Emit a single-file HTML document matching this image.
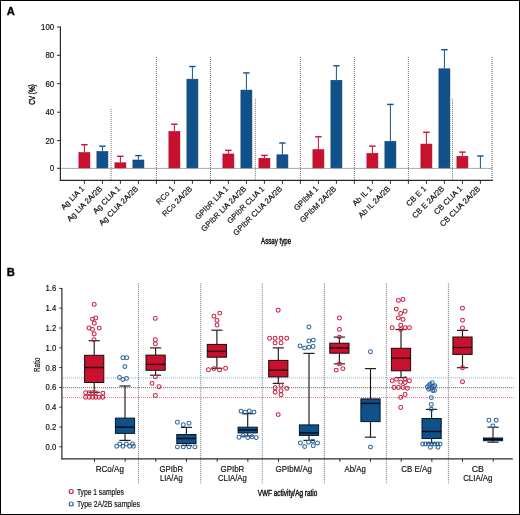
<!DOCTYPE html>
<html><head><meta charset="utf-8"><style>
html,body{margin:0;padding:0;background:#fff;}
#wrap{position:relative;width:518px;height:513px;border:1px solid #000;overflow:hidden;background:#fff;}
svg{position:absolute;left:-1px;top:-1px;will-change:transform;}
text{font-family:"Liberation Sans", sans-serif;stroke:#111;stroke-width:0.18px;}
</style></head><body><div id="wrap">
<svg width="520" height="515" viewBox="0 0 520 515">
<text x="6.70" y="14.60" font-size="11.2" text-anchor="start" font-weight="bold" fill="#000" style="stroke:#000;stroke-width:0.35px">A</text>
<line x1="111.20" y1="109.00" x2="111.20" y2="180.00" stroke="#999" stroke-width="1.3" stroke-dasharray="1 1"/>
<line x1="156.40" y1="57.00" x2="156.40" y2="180.00" stroke="#777" stroke-width="1" stroke-dasharray="1 1"/>
<line x1="210.50" y1="57.00" x2="210.50" y2="180.00" stroke="#777" stroke-width="1" stroke-dasharray="1 1"/>
<line x1="255.40" y1="98.80" x2="255.40" y2="180.00" stroke="#777" stroke-width="1" stroke-dasharray="1 1"/>
<line x1="300.40" y1="57.00" x2="300.40" y2="180.00" stroke="#777" stroke-width="1" stroke-dasharray="1 1"/>
<line x1="354.40" y1="57.00" x2="354.40" y2="180.00" stroke="#777" stroke-width="1" stroke-dasharray="1 1"/>
<line x1="408.40" y1="57.00" x2="408.40" y2="180.00" stroke="#777" stroke-width="1" stroke-dasharray="1 1"/>
<line x1="452.50" y1="98.80" x2="452.50" y2="180.00" stroke="#777" stroke-width="1" stroke-dasharray="1 1"/>
<line x1="492.10" y1="57.00" x2="492.10" y2="179.50" stroke="#999" stroke-width="1.8" stroke-dasharray="1 1"/>
<line x1="84.40" y1="152.30" x2="84.40" y2="144.70" stroke="#c8112f" stroke-width="1"/>
<line x1="81.20" y1="144.70" x2="87.60" y2="144.70" stroke="#c8112f" stroke-width="1.4"/>
<rect x="78.90" y="152.60" width="11.00" height="15.30" fill="#c8112f" stroke="#b00020" stroke-width="0.6"/>
<line x1="102.40" y1="151.20" x2="102.40" y2="146.20" stroke="#11518a" stroke-width="1"/>
<line x1="99.20" y1="146.20" x2="105.60" y2="146.20" stroke="#11518a" stroke-width="1.4"/>
<rect x="96.90" y="151.50" width="11.00" height="16.40" fill="#11518a" stroke="#0a4070" stroke-width="0.6"/>
<line x1="120.40" y1="162.50" x2="120.40" y2="156.30" stroke="#c8112f" stroke-width="1"/>
<line x1="117.20" y1="156.30" x2="123.60" y2="156.30" stroke="#c8112f" stroke-width="1.4"/>
<rect x="114.90" y="162.80" width="11.00" height="5.10" fill="#c8112f" stroke="#b00020" stroke-width="0.6"/>
<line x1="138.40" y1="159.70" x2="138.40" y2="155.60" stroke="#11518a" stroke-width="1"/>
<line x1="135.20" y1="155.60" x2="141.60" y2="155.60" stroke="#11518a" stroke-width="1.4"/>
<rect x="132.90" y="160.00" width="11.00" height="7.90" fill="#11518a" stroke="#0a4070" stroke-width="0.6"/>
<line x1="174.40" y1="131.20" x2="174.40" y2="124.20" stroke="#c8112f" stroke-width="1"/>
<line x1="171.20" y1="124.20" x2="177.60" y2="124.20" stroke="#c8112f" stroke-width="1.4"/>
<rect x="168.90" y="131.50" width="11.00" height="36.40" fill="#c8112f" stroke="#b00020" stroke-width="0.6"/>
<line x1="192.40" y1="78.90" x2="192.40" y2="66.50" stroke="#11518a" stroke-width="1"/>
<line x1="189.20" y1="66.50" x2="195.60" y2="66.50" stroke="#11518a" stroke-width="1.4"/>
<rect x="186.90" y="79.20" width="11.00" height="88.70" fill="#11518a" stroke="#0a4070" stroke-width="0.6"/>
<line x1="228.40" y1="153.70" x2="228.40" y2="150.40" stroke="#c8112f" stroke-width="1"/>
<line x1="225.20" y1="150.40" x2="231.60" y2="150.40" stroke="#c8112f" stroke-width="1.4"/>
<rect x="222.90" y="154.00" width="11.00" height="13.90" fill="#c8112f" stroke="#b00020" stroke-width="0.6"/>
<line x1="246.40" y1="89.80" x2="246.40" y2="72.90" stroke="#11518a" stroke-width="1"/>
<line x1="243.20" y1="72.90" x2="249.60" y2="72.90" stroke="#11518a" stroke-width="1.4"/>
<rect x="240.90" y="90.10" width="11.00" height="77.80" fill="#11518a" stroke="#0a4070" stroke-width="0.6"/>
<line x1="264.40" y1="158.00" x2="264.40" y2="155.40" stroke="#c8112f" stroke-width="1"/>
<line x1="261.20" y1="155.40" x2="267.60" y2="155.40" stroke="#c8112f" stroke-width="1.4"/>
<rect x="258.90" y="158.30" width="11.00" height="9.60" fill="#c8112f" stroke="#b00020" stroke-width="0.6"/>
<line x1="282.40" y1="154.50" x2="282.40" y2="143.00" stroke="#11518a" stroke-width="1"/>
<line x1="279.20" y1="143.00" x2="285.60" y2="143.00" stroke="#11518a" stroke-width="1.4"/>
<rect x="276.90" y="154.80" width="11.00" height="13.10" fill="#11518a" stroke="#0a4070" stroke-width="0.6"/>
<line x1="318.40" y1="149.40" x2="318.40" y2="136.80" stroke="#c8112f" stroke-width="1"/>
<line x1="315.20" y1="136.80" x2="321.60" y2="136.80" stroke="#c8112f" stroke-width="1.4"/>
<rect x="312.90" y="149.70" width="11.00" height="18.20" fill="#c8112f" stroke="#b00020" stroke-width="0.6"/>
<line x1="336.40" y1="80.00" x2="336.40" y2="65.80" stroke="#11518a" stroke-width="1"/>
<line x1="333.20" y1="65.80" x2="339.60" y2="65.80" stroke="#11518a" stroke-width="1.4"/>
<rect x="330.90" y="80.30" width="11.00" height="87.60" fill="#11518a" stroke="#0a4070" stroke-width="0.6"/>
<line x1="372.40" y1="153.10" x2="372.40" y2="146.10" stroke="#c8112f" stroke-width="1"/>
<line x1="369.20" y1="146.10" x2="375.60" y2="146.10" stroke="#c8112f" stroke-width="1.4"/>
<rect x="366.90" y="153.40" width="11.00" height="14.50" fill="#c8112f" stroke="#b00020" stroke-width="0.6"/>
<line x1="390.40" y1="141.10" x2="390.40" y2="104.40" stroke="#11518a" stroke-width="1"/>
<line x1="387.20" y1="104.40" x2="393.60" y2="104.40" stroke="#11518a" stroke-width="1.4"/>
<rect x="384.90" y="141.40" width="11.00" height="26.50" fill="#11518a" stroke="#0a4070" stroke-width="0.6"/>
<line x1="426.40" y1="143.80" x2="426.40" y2="132.30" stroke="#c8112f" stroke-width="1"/>
<line x1="423.20" y1="132.30" x2="429.60" y2="132.30" stroke="#c8112f" stroke-width="1.4"/>
<rect x="420.90" y="144.10" width="11.00" height="23.80" fill="#c8112f" stroke="#b00020" stroke-width="0.6"/>
<line x1="444.40" y1="68.50" x2="444.40" y2="49.70" stroke="#11518a" stroke-width="1"/>
<line x1="441.20" y1="49.70" x2="447.60" y2="49.70" stroke="#11518a" stroke-width="1.4"/>
<rect x="438.90" y="68.80" width="11.00" height="99.10" fill="#11518a" stroke="#0a4070" stroke-width="0.6"/>
<line x1="462.40" y1="156.00" x2="462.40" y2="152.10" stroke="#c8112f" stroke-width="1"/>
<line x1="459.20" y1="152.10" x2="465.60" y2="152.10" stroke="#c8112f" stroke-width="1.4"/>
<rect x="456.90" y="156.30" width="11.00" height="11.60" fill="#c8112f" stroke="#b00020" stroke-width="0.6"/>
<line x1="480.40" y1="168.30" x2="480.40" y2="156.00" stroke="#11518a" stroke-width="1"/>
<line x1="477.20" y1="156.00" x2="483.60" y2="156.00" stroke="#11518a" stroke-width="1.4"/>
<line x1="60.40" y1="168.40" x2="492.50" y2="168.40" stroke="#555" stroke-width="1" stroke-dasharray="1 1"/>
<line x1="60.40" y1="26.50" x2="60.40" y2="180.80" stroke="#2a2a2a" stroke-width="1.2"/>
<line x1="59.80" y1="180.30" x2="492.80" y2="180.30" stroke="#2a2a2a" stroke-width="1.2"/>
<line x1="57.00" y1="168.30" x2="60.40" y2="168.30" stroke="#2a2a2a" stroke-width="1"/>
<text transform="translate(54.20 171.30) scale(0.95 1)" x="0" y="0" font-size="8.3" text-anchor="end" font-weight="normal" fill="#111">0</text>
<line x1="57.00" y1="140.60" x2="60.40" y2="140.60" stroke="#2a2a2a" stroke-width="1"/>
<text transform="translate(54.20 143.60) scale(0.95 1)" x="0" y="0" font-size="8.3" text-anchor="end" font-weight="normal" fill="#111">20</text>
<line x1="57.00" y1="112.20" x2="60.40" y2="112.20" stroke="#2a2a2a" stroke-width="1"/>
<text transform="translate(54.20 115.20) scale(0.95 1)" x="0" y="0" font-size="8.3" text-anchor="end" font-weight="normal" fill="#111">40</text>
<line x1="57.00" y1="83.70" x2="60.40" y2="83.70" stroke="#2a2a2a" stroke-width="1"/>
<text transform="translate(54.20 86.70) scale(0.95 1)" x="0" y="0" font-size="8.3" text-anchor="end" font-weight="normal" fill="#111">60</text>
<line x1="57.00" y1="55.30" x2="60.40" y2="55.30" stroke="#2a2a2a" stroke-width="1"/>
<text transform="translate(54.20 58.30) scale(0.95 1)" x="0" y="0" font-size="8.3" text-anchor="end" font-weight="normal" fill="#111">80</text>
<line x1="57.00" y1="27.00" x2="60.40" y2="27.00" stroke="#2a2a2a" stroke-width="1"/>
<text transform="translate(54.20 30.00) scale(0.95 1)" x="0" y="0" font-size="8.3" text-anchor="end" font-weight="normal" fill="#111">100</text>
<line x1="84.40" y1="180.30" x2="84.40" y2="183.80" stroke="#2a2a2a" stroke-width="1"/>
<line x1="102.40" y1="180.30" x2="102.40" y2="183.80" stroke="#2a2a2a" stroke-width="1"/>
<line x1="120.40" y1="180.30" x2="120.40" y2="183.80" stroke="#2a2a2a" stroke-width="1"/>
<line x1="138.40" y1="180.30" x2="138.40" y2="183.80" stroke="#2a2a2a" stroke-width="1"/>
<line x1="156.40" y1="180.30" x2="156.40" y2="183.80" stroke="#2a2a2a" stroke-width="1"/>
<line x1="174.40" y1="180.30" x2="174.40" y2="183.80" stroke="#2a2a2a" stroke-width="1"/>
<line x1="192.40" y1="180.30" x2="192.40" y2="183.80" stroke="#2a2a2a" stroke-width="1"/>
<line x1="210.40" y1="180.30" x2="210.40" y2="183.80" stroke="#2a2a2a" stroke-width="1"/>
<line x1="228.40" y1="180.30" x2="228.40" y2="183.80" stroke="#2a2a2a" stroke-width="1"/>
<line x1="246.40" y1="180.30" x2="246.40" y2="183.80" stroke="#2a2a2a" stroke-width="1"/>
<line x1="264.40" y1="180.30" x2="264.40" y2="183.80" stroke="#2a2a2a" stroke-width="1"/>
<line x1="282.40" y1="180.30" x2="282.40" y2="183.80" stroke="#2a2a2a" stroke-width="1"/>
<line x1="300.40" y1="180.30" x2="300.40" y2="183.80" stroke="#2a2a2a" stroke-width="1"/>
<line x1="318.40" y1="180.30" x2="318.40" y2="183.80" stroke="#2a2a2a" stroke-width="1"/>
<line x1="336.40" y1="180.30" x2="336.40" y2="183.80" stroke="#2a2a2a" stroke-width="1"/>
<line x1="354.40" y1="180.30" x2="354.40" y2="183.80" stroke="#2a2a2a" stroke-width="1"/>
<line x1="372.40" y1="180.30" x2="372.40" y2="183.80" stroke="#2a2a2a" stroke-width="1"/>
<line x1="390.40" y1="180.30" x2="390.40" y2="183.80" stroke="#2a2a2a" stroke-width="1"/>
<line x1="408.40" y1="180.30" x2="408.40" y2="183.80" stroke="#2a2a2a" stroke-width="1"/>
<line x1="426.40" y1="180.30" x2="426.40" y2="183.80" stroke="#2a2a2a" stroke-width="1"/>
<line x1="444.40" y1="180.30" x2="444.40" y2="183.80" stroke="#2a2a2a" stroke-width="1"/>
<line x1="462.40" y1="180.30" x2="462.40" y2="183.80" stroke="#2a2a2a" stroke-width="1"/>
<line x1="480.40" y1="180.30" x2="480.40" y2="183.80" stroke="#2a2a2a" stroke-width="1"/>
<text x="84.80" y="189.30" font-size="7.8" text-anchor="end" font-weight="normal" fill="#111" transform="rotate(-45 84.80 189.30)">Ag LIA 1</text>
<text x="102.80" y="189.30" font-size="7.8" text-anchor="end" font-weight="normal" fill="#111" transform="rotate(-45 102.80 189.30)">Ag LIA 2A/2B</text>
<text x="120.80" y="189.30" font-size="7.8" text-anchor="end" font-weight="normal" fill="#111" transform="rotate(-45 120.80 189.30)">Ag CLIA 1</text>
<text x="138.80" y="189.30" font-size="7.8" text-anchor="end" font-weight="normal" fill="#111" transform="rotate(-45 138.80 189.30)">Ag CLIA 2A/2B</text>
<text x="174.80" y="189.30" font-size="7.8" text-anchor="end" font-weight="normal" fill="#111" transform="rotate(-45 174.80 189.30)">RCo 1</text>
<text x="192.80" y="189.30" font-size="7.8" text-anchor="end" font-weight="normal" fill="#111" transform="rotate(-45 192.80 189.30)">RCo 2A/2B</text>
<text x="228.80" y="189.30" font-size="7.8" text-anchor="end" font-weight="normal" fill="#111" transform="rotate(-45 228.80 189.30)">GPIbR LIA 1</text>
<text x="246.80" y="189.30" font-size="7.8" text-anchor="end" font-weight="normal" fill="#111" transform="rotate(-45 246.80 189.30)">GPIbR LIA 2A/2B</text>
<text x="264.80" y="189.30" font-size="7.8" text-anchor="end" font-weight="normal" fill="#111" transform="rotate(-45 264.80 189.30)">GPIbR CLIA 1</text>
<text x="282.80" y="189.30" font-size="7.8" text-anchor="end" font-weight="normal" fill="#111" transform="rotate(-45 282.80 189.30)">GPIbR CLIA 2A/2B</text>
<text x="318.80" y="189.30" font-size="7.8" text-anchor="end" font-weight="normal" fill="#111" transform="rotate(-45 318.80 189.30)">GPIbM 1</text>
<text x="336.80" y="189.30" font-size="7.8" text-anchor="end" font-weight="normal" fill="#111" transform="rotate(-45 336.80 189.30)">GPIbM 2A/2B</text>
<text x="372.80" y="189.30" font-size="7.8" text-anchor="end" font-weight="normal" fill="#111" transform="rotate(-45 372.80 189.30)">Ab IL 1</text>
<text x="390.80" y="189.30" font-size="7.8" text-anchor="end" font-weight="normal" fill="#111" transform="rotate(-45 390.80 189.30)">Ab IL 2A/2B</text>
<text x="426.80" y="189.30" font-size="7.8" text-anchor="end" font-weight="normal" fill="#111" transform="rotate(-45 426.80 189.30)">CB E 1</text>
<text x="444.80" y="189.30" font-size="7.8" text-anchor="end" font-weight="normal" fill="#111" transform="rotate(-45 444.80 189.30)">CB E 2A/2B</text>
<text x="462.80" y="189.30" font-size="7.8" text-anchor="end" font-weight="normal" fill="#111" transform="rotate(-45 462.80 189.30)">CB CLIA 1</text>
<text x="480.80" y="189.30" font-size="7.8" text-anchor="end" font-weight="normal" fill="#111" transform="rotate(-45 480.80 189.30)">CB CLIA 2A/2B</text>
<text x="0.00" y="0.00" font-size="9.4" text-anchor="middle" font-weight="normal" fill="#111" transform="translate(35.2 94.5) rotate(-90)" textLength="20.5" lengthAdjust="spacingAndGlyphs" style="stroke:#111;stroke-width:0.45px">CV (%)</text>
<text x="276.10" y="243.50" font-size="9.5" text-anchor="middle" font-weight="normal" fill="#111" textLength="30" lengthAdjust="spacingAndGlyphs" style="stroke:#111;stroke-width:0.45px">Assay type</text>
<text x="6.70" y="276.30" font-size="11.2" text-anchor="start" font-weight="bold" fill="#000" style="stroke:#000;stroke-width:0.35px">B</text>
<line x1="138.50" y1="283.20" x2="138.50" y2="483.70" stroke="#777" stroke-width="1" stroke-dasharray="1 1"/>
<line x1="200.70" y1="283.20" x2="200.70" y2="483.70" stroke="#777" stroke-width="1" stroke-dasharray="1 1"/>
<line x1="262.30" y1="283.20" x2="262.30" y2="483.70" stroke="#777" stroke-width="1" stroke-dasharray="1 1"/>
<line x1="324.40" y1="283.20" x2="324.40" y2="483.70" stroke="#777" stroke-width="1" stroke-dasharray="1 1"/>
<line x1="386.40" y1="283.20" x2="386.40" y2="483.70" stroke="#777" stroke-width="1" stroke-dasharray="1 1"/>
<line x1="448.40" y1="283.20" x2="448.40" y2="483.70" stroke="#777" stroke-width="1" stroke-dasharray="1 1"/>
<line x1="62.90" y1="377.90" x2="513.80" y2="377.90" stroke="#86aed2" stroke-width="1" stroke-dasharray="1 1"/>
<line x1="62.90" y1="387.70" x2="513.80" y2="387.70" stroke="#5e5e5e" stroke-width="1" stroke-dasharray="1 1"/>
<line x1="62.90" y1="397.50" x2="513.80" y2="397.50" stroke="#e2728a" stroke-width="1" stroke-dasharray="1 1"/>
<line x1="94.20" y1="340.70" x2="94.20" y2="355.30" stroke="#1a1a1a" stroke-width="1.15"/>
<line x1="94.20" y1="382.50" x2="94.20" y2="392.30" stroke="#1a1a1a" stroke-width="1.15"/>
<line x1="88.60" y1="340.70" x2="99.80" y2="340.70" stroke="#222" stroke-width="1.2"/>
<line x1="88.60" y1="392.30" x2="99.80" y2="392.30" stroke="#222" stroke-width="1.2"/>
<rect x="84.60" y="355.30" width="19.20" height="27.20" fill="#c8112f" stroke="#1a0a0a" stroke-width="1"/>
<line x1="84.60" y1="367.50" x2="103.80" y2="367.50" stroke="#2a0008" stroke-width="1.4"/>
<circle cx="94.20" cy="304.40" r="1.95" fill="none" stroke="#cc1f40" stroke-width="1.05"/>
<circle cx="95.70" cy="318.00" r="1.95" fill="none" stroke="#cc1f40" stroke-width="1.05"/>
<circle cx="92.50" cy="319.10" r="1.95" fill="none" stroke="#cc1f40" stroke-width="1.05"/>
<circle cx="94.30" cy="323.20" r="1.95" fill="none" stroke="#cc1f40" stroke-width="1.05"/>
<circle cx="89.00" cy="328.00" r="1.95" fill="none" stroke="#cc1f40" stroke-width="1.05"/>
<circle cx="92.50" cy="329.40" r="1.95" fill="none" stroke="#cc1f40" stroke-width="1.05"/>
<circle cx="99.30" cy="328.10" r="1.95" fill="none" stroke="#cc1f40" stroke-width="1.05"/>
<circle cx="94.20" cy="334.00" r="1.95" fill="none" stroke="#cc1f40" stroke-width="1.05"/>
<circle cx="94.00" cy="339.80" r="1.95" fill="none" stroke="#cc1f40" stroke-width="1.05"/>
<circle cx="85.60" cy="392.70" r="1.95" fill="none" stroke="#cc1f40" stroke-width="1.05"/>
<circle cx="89.10" cy="392.70" r="1.95" fill="none" stroke="#cc1f40" stroke-width="1.05"/>
<circle cx="92.40" cy="392.70" r="1.95" fill="none" stroke="#cc1f40" stroke-width="1.05"/>
<circle cx="95.60" cy="392.70" r="1.95" fill="none" stroke="#cc1f40" stroke-width="1.05"/>
<circle cx="102.90" cy="393.20" r="1.95" fill="none" stroke="#cc1f40" stroke-width="1.05"/>
<circle cx="85.60" cy="397.30" r="1.95" fill="none" stroke="#cc1f40" stroke-width="1.05"/>
<circle cx="89.20" cy="397.30" r="1.95" fill="none" stroke="#cc1f40" stroke-width="1.05"/>
<circle cx="92.60" cy="397.30" r="1.95" fill="none" stroke="#cc1f40" stroke-width="1.05"/>
<circle cx="95.70" cy="397.30" r="1.95" fill="none" stroke="#cc1f40" stroke-width="1.05"/>
<circle cx="99.00" cy="397.30" r="1.95" fill="none" stroke="#cc1f40" stroke-width="1.05"/>
<circle cx="102.80" cy="397.30" r="1.95" fill="none" stroke="#cc1f40" stroke-width="1.05"/>
<line x1="125.00" y1="386.00" x2="125.00" y2="418.10" stroke="#1a1a1a" stroke-width="1.15"/>
<line x1="125.00" y1="433.40" x2="125.00" y2="440.40" stroke="#1a1a1a" stroke-width="1.15"/>
<line x1="119.40" y1="386.00" x2="130.60" y2="386.00" stroke="#222" stroke-width="1.2"/>
<line x1="119.40" y1="440.40" x2="130.60" y2="440.40" stroke="#222" stroke-width="1.2"/>
<rect x="115.40" y="418.10" width="19.20" height="15.30" fill="#11518a" stroke="#06182a" stroke-width="1"/>
<line x1="115.40" y1="427.10" x2="134.60" y2="427.10" stroke="#000a18" stroke-width="1.4"/>
<circle cx="122.90" cy="357.70" r="1.95" fill="none" stroke="#2a64a0" stroke-width="1.05"/>
<circle cx="126.70" cy="357.70" r="1.95" fill="none" stroke="#2a64a0" stroke-width="1.05"/>
<circle cx="124.90" cy="366.60" r="1.95" fill="none" stroke="#2a64a0" stroke-width="1.05"/>
<circle cx="119.50" cy="377.50" r="1.95" fill="none" stroke="#2a64a0" stroke-width="1.05"/>
<circle cx="122.90" cy="379.50" r="1.95" fill="none" stroke="#2a64a0" stroke-width="1.05"/>
<circle cx="126.50" cy="378.40" r="1.95" fill="none" stroke="#2a64a0" stroke-width="1.05"/>
<circle cx="116.70" cy="446.30" r="1.95" fill="none" stroke="#2a64a0" stroke-width="1.05"/>
<circle cx="122.90" cy="446.30" r="1.95" fill="none" stroke="#2a64a0" stroke-width="1.05"/>
<circle cx="129.60" cy="446.30" r="1.95" fill="none" stroke="#2a64a0" stroke-width="1.05"/>
<circle cx="133.40" cy="446.30" r="1.95" fill="none" stroke="#2a64a0" stroke-width="1.05"/>
<circle cx="119.80" cy="444.00" r="1.95" fill="none" stroke="#2a64a0" stroke-width="1.05"/>
<circle cx="126.30" cy="444.00" r="1.95" fill="none" stroke="#2a64a0" stroke-width="1.05"/>
<circle cx="132.50" cy="444.00" r="1.95" fill="none" stroke="#2a64a0" stroke-width="1.05"/>
<line x1="155.60" y1="347.90" x2="155.60" y2="355.10" stroke="#1a1a1a" stroke-width="1.15"/>
<line x1="155.60" y1="370.30" x2="155.60" y2="375.20" stroke="#1a1a1a" stroke-width="1.15"/>
<line x1="150.00" y1="347.90" x2="161.20" y2="347.90" stroke="#222" stroke-width="1.2"/>
<line x1="150.00" y1="375.20" x2="161.20" y2="375.20" stroke="#222" stroke-width="1.2"/>
<rect x="146.00" y="355.10" width="19.20" height="15.20" fill="#c8112f" stroke="#1a0a0a" stroke-width="1"/>
<line x1="146.00" y1="364.40" x2="165.20" y2="364.40" stroke="#2a0008" stroke-width="1.4"/>
<circle cx="155.30" cy="318.40" r="1.95" fill="none" stroke="#cc1f40" stroke-width="1.05"/>
<circle cx="155.30" cy="339.80" r="1.95" fill="none" stroke="#cc1f40" stroke-width="1.05"/>
<circle cx="155.30" cy="343.70" r="1.95" fill="none" stroke="#cc1f40" stroke-width="1.05"/>
<circle cx="155.30" cy="376.90" r="1.95" fill="none" stroke="#cc1f40" stroke-width="1.05"/>
<circle cx="152.00" cy="383.40" r="1.95" fill="none" stroke="#cc1f40" stroke-width="1.05"/>
<circle cx="159.00" cy="386.80" r="1.95" fill="none" stroke="#cc1f40" stroke-width="1.05"/>
<circle cx="155.30" cy="395.50" r="1.95" fill="none" stroke="#cc1f40" stroke-width="1.05"/>
<line x1="186.40" y1="427.40" x2="186.40" y2="434.50" stroke="#1a1a1a" stroke-width="1.15"/>
<line x1="186.40" y1="443.50" x2="186.40" y2="445.50" stroke="#1a1a1a" stroke-width="1.15"/>
<line x1="180.80" y1="427.40" x2="192.00" y2="427.40" stroke="#222" stroke-width="1.2"/>
<line x1="180.80" y1="445.50" x2="192.00" y2="445.50" stroke="#222" stroke-width="1.2"/>
<rect x="176.80" y="434.50" width="19.20" height="9.00" fill="#11518a" stroke="#06182a" stroke-width="1"/>
<line x1="176.80" y1="438.50" x2="196.00" y2="438.50" stroke="#000a18" stroke-width="1.4"/>
<circle cx="177.40" cy="422.20" r="1.95" fill="none" stroke="#2a64a0" stroke-width="1.05"/>
<circle cx="183.30" cy="424.80" r="1.95" fill="none" stroke="#2a64a0" stroke-width="1.05"/>
<circle cx="189.00" cy="423.30" r="1.95" fill="none" stroke="#2a64a0" stroke-width="1.05"/>
<circle cx="177.40" cy="446.90" r="1.95" fill="none" stroke="#2a64a0" stroke-width="1.05"/>
<circle cx="183.30" cy="446.90" r="1.95" fill="none" stroke="#2a64a0" stroke-width="1.05"/>
<circle cx="189.00" cy="446.90" r="1.95" fill="none" stroke="#2a64a0" stroke-width="1.05"/>
<circle cx="194.90" cy="446.90" r="1.95" fill="none" stroke="#2a64a0" stroke-width="1.05"/>
<line x1="216.90" y1="330.20" x2="216.90" y2="344.40" stroke="#1a1a1a" stroke-width="1.15"/>
<line x1="216.90" y1="357.20" x2="216.90" y2="368.30" stroke="#1a1a1a" stroke-width="1.15"/>
<line x1="211.30" y1="330.20" x2="222.50" y2="330.20" stroke="#222" stroke-width="1.2"/>
<line x1="211.30" y1="368.30" x2="222.50" y2="368.30" stroke="#222" stroke-width="1.2"/>
<rect x="207.30" y="344.40" width="19.20" height="12.80" fill="#c8112f" stroke="#1a0a0a" stroke-width="1"/>
<line x1="207.30" y1="351.40" x2="226.50" y2="351.40" stroke="#2a0008" stroke-width="1.4"/>
<circle cx="213.90" cy="316.20" r="1.95" fill="none" stroke="#cc1f40" stroke-width="1.05"/>
<circle cx="219.80" cy="313.10" r="1.95" fill="none" stroke="#cc1f40" stroke-width="1.05"/>
<circle cx="217.00" cy="320.40" r="1.95" fill="none" stroke="#cc1f40" stroke-width="1.05"/>
<circle cx="217.00" cy="325.00" r="1.95" fill="none" stroke="#cc1f40" stroke-width="1.05"/>
<circle cx="208.50" cy="369.70" r="1.95" fill="none" stroke="#cc1f40" stroke-width="1.05"/>
<circle cx="213.90" cy="368.60" r="1.95" fill="none" stroke="#cc1f40" stroke-width="1.05"/>
<circle cx="219.50" cy="369.90" r="1.95" fill="none" stroke="#cc1f40" stroke-width="1.05"/>
<circle cx="225.60" cy="368.30" r="1.95" fill="none" stroke="#cc1f40" stroke-width="1.05"/>
<line x1="247.70" y1="413.70" x2="247.70" y2="427.20" stroke="#1a1a1a" stroke-width="1.15"/>
<line x1="247.70" y1="432.90" x2="247.70" y2="436.00" stroke="#1a1a1a" stroke-width="1.15"/>
<line x1="242.10" y1="413.70" x2="253.30" y2="413.70" stroke="#222" stroke-width="1.2"/>
<line x1="242.10" y1="436.00" x2="253.30" y2="436.00" stroke="#222" stroke-width="1.2"/>
<rect x="238.10" y="427.20" width="19.20" height="5.70" fill="#11518a" stroke="#06182a" stroke-width="1"/>
<line x1="238.10" y1="430.00" x2="257.30" y2="430.00" stroke="#000a18" stroke-width="1.4"/>
<circle cx="241.10" cy="411.30" r="1.95" fill="none" stroke="#2a64a0" stroke-width="1.05"/>
<circle cx="245.20" cy="412.30" r="1.95" fill="none" stroke="#2a64a0" stroke-width="1.05"/>
<circle cx="249.30" cy="411.00" r="1.95" fill="none" stroke="#2a64a0" stroke-width="1.05"/>
<circle cx="254.00" cy="412.10" r="1.95" fill="none" stroke="#2a64a0" stroke-width="1.05"/>
<circle cx="239.00" cy="437.30" r="1.95" fill="none" stroke="#2a64a0" stroke-width="1.05"/>
<circle cx="243.10" cy="435.40" r="1.95" fill="none" stroke="#2a64a0" stroke-width="1.05"/>
<circle cx="247.80" cy="437.60" r="1.95" fill="none" stroke="#2a64a0" stroke-width="1.05"/>
<circle cx="252.10" cy="436.80" r="1.95" fill="none" stroke="#2a64a0" stroke-width="1.05"/>
<circle cx="256.30" cy="437.60" r="1.95" fill="none" stroke="#2a64a0" stroke-width="1.05"/>
<line x1="278.30" y1="347.90" x2="278.30" y2="360.40" stroke="#1a1a1a" stroke-width="1.15"/>
<line x1="278.30" y1="376.90" x2="278.30" y2="383.40" stroke="#1a1a1a" stroke-width="1.15"/>
<line x1="272.70" y1="347.90" x2="283.90" y2="347.90" stroke="#222" stroke-width="1.2"/>
<line x1="272.70" y1="383.40" x2="283.90" y2="383.40" stroke="#222" stroke-width="1.2"/>
<rect x="268.70" y="360.40" width="19.20" height="16.50" fill="#c8112f" stroke="#1a0a0a" stroke-width="1"/>
<line x1="268.70" y1="370.20" x2="287.90" y2="370.20" stroke="#2a0008" stroke-width="1.4"/>
<circle cx="278.20" cy="310.30" r="1.95" fill="none" stroke="#cc1f40" stroke-width="1.05"/>
<circle cx="269.60" cy="338.20" r="1.95" fill="none" stroke="#cc1f40" stroke-width="1.05"/>
<circle cx="275.10" cy="338.20" r="1.95" fill="none" stroke="#cc1f40" stroke-width="1.05"/>
<circle cx="281.00" cy="338.20" r="1.95" fill="none" stroke="#cc1f40" stroke-width="1.05"/>
<circle cx="286.70" cy="338.20" r="1.95" fill="none" stroke="#cc1f40" stroke-width="1.05"/>
<circle cx="275.10" cy="342.90" r="1.95" fill="none" stroke="#cc1f40" stroke-width="1.05"/>
<circle cx="281.00" cy="342.90" r="1.95" fill="none" stroke="#cc1f40" stroke-width="1.05"/>
<circle cx="275.10" cy="387.70" r="1.95" fill="none" stroke="#cc1f40" stroke-width="1.05"/>
<circle cx="281.00" cy="385.40" r="1.95" fill="none" stroke="#cc1f40" stroke-width="1.05"/>
<circle cx="286.70" cy="388.40" r="1.95" fill="none" stroke="#cc1f40" stroke-width="1.05"/>
<circle cx="275.10" cy="392.20" r="1.95" fill="none" stroke="#cc1f40" stroke-width="1.05"/>
<circle cx="281.00" cy="390.70" r="1.95" fill="none" stroke="#cc1f40" stroke-width="1.05"/>
<circle cx="281.00" cy="394.70" r="1.95" fill="none" stroke="#cc1f40" stroke-width="1.05"/>
<circle cx="278.20" cy="414.60" r="1.95" fill="none" stroke="#cc1f40" stroke-width="1.05"/>
<line x1="309.00" y1="353.40" x2="309.00" y2="424.90" stroke="#1a1a1a" stroke-width="1.15"/>
<line x1="309.00" y1="435.40" x2="309.00" y2="440.40" stroke="#1a1a1a" stroke-width="1.15"/>
<line x1="303.40" y1="353.40" x2="314.60" y2="353.40" stroke="#222" stroke-width="1.2"/>
<line x1="303.40" y1="440.40" x2="314.60" y2="440.40" stroke="#222" stroke-width="1.2"/>
<rect x="299.40" y="424.90" width="19.20" height="10.50" fill="#11518a" stroke="#06182a" stroke-width="1"/>
<line x1="299.40" y1="432.90" x2="318.60" y2="432.90" stroke="#000a18" stroke-width="1.4"/>
<circle cx="308.90" cy="327.00" r="1.95" fill="none" stroke="#2a64a0" stroke-width="1.05"/>
<circle cx="308.90" cy="341.00" r="1.95" fill="none" stroke="#2a64a0" stroke-width="1.05"/>
<circle cx="313.30" cy="340.10" r="1.95" fill="none" stroke="#2a64a0" stroke-width="1.05"/>
<circle cx="300.10" cy="346.00" r="1.95" fill="none" stroke="#2a64a0" stroke-width="1.05"/>
<circle cx="304.60" cy="347.90" r="1.95" fill="none" stroke="#2a64a0" stroke-width="1.05"/>
<circle cx="308.90" cy="347.20" r="1.95" fill="none" stroke="#2a64a0" stroke-width="1.05"/>
<circle cx="313.10" cy="346.50" r="1.95" fill="none" stroke="#2a64a0" stroke-width="1.05"/>
<circle cx="300.40" cy="443.00" r="1.95" fill="none" stroke="#2a64a0" stroke-width="1.05"/>
<circle cx="304.60" cy="446.60" r="1.95" fill="none" stroke="#2a64a0" stroke-width="1.05"/>
<circle cx="308.60" cy="442.20" r="1.95" fill="none" stroke="#2a64a0" stroke-width="1.05"/>
<circle cx="312.80" cy="441.10" r="1.95" fill="none" stroke="#2a64a0" stroke-width="1.05"/>
<circle cx="313.30" cy="445.80" r="1.95" fill="none" stroke="#2a64a0" stroke-width="1.05"/>
<circle cx="317.50" cy="443.00" r="1.95" fill="none" stroke="#2a64a0" stroke-width="1.05"/>
<line x1="339.40" y1="337.10" x2="339.40" y2="343.20" stroke="#1a1a1a" stroke-width="1.15"/>
<line x1="339.40" y1="353.20" x2="339.40" y2="363.90" stroke="#1a1a1a" stroke-width="1.15"/>
<line x1="333.80" y1="337.10" x2="345.00" y2="337.10" stroke="#222" stroke-width="1.2"/>
<line x1="333.80" y1="363.90" x2="345.00" y2="363.90" stroke="#222" stroke-width="1.2"/>
<rect x="329.80" y="343.20" width="19.20" height="10.00" fill="#c8112f" stroke="#1a0a0a" stroke-width="1"/>
<line x1="329.80" y1="347.90" x2="349.00" y2="347.90" stroke="#2a0008" stroke-width="1.4"/>
<circle cx="339.40" cy="318.00" r="1.95" fill="none" stroke="#cc1f40" stroke-width="1.05"/>
<circle cx="339.40" cy="329.40" r="1.95" fill="none" stroke="#cc1f40" stroke-width="1.05"/>
<circle cx="339.40" cy="337.10" r="1.95" fill="none" stroke="#cc1f40" stroke-width="1.05"/>
<circle cx="339.40" cy="363.90" r="1.95" fill="none" stroke="#cc1f40" stroke-width="1.05"/>
<circle cx="336.20" cy="370.10" r="1.95" fill="none" stroke="#cc1f40" stroke-width="1.05"/>
<circle cx="342.90" cy="368.60" r="1.95" fill="none" stroke="#cc1f40" stroke-width="1.05"/>
<line x1="370.50" y1="368.60" x2="370.50" y2="398.90" stroke="#1a1a1a" stroke-width="1.15"/>
<line x1="370.50" y1="421.60" x2="370.50" y2="437.20" stroke="#1a1a1a" stroke-width="1.15"/>
<line x1="364.90" y1="368.60" x2="376.10" y2="368.60" stroke="#222" stroke-width="1.2"/>
<line x1="364.90" y1="437.20" x2="376.10" y2="437.20" stroke="#222" stroke-width="1.2"/>
<rect x="360.90" y="398.90" width="19.20" height="22.70" fill="#11518a" stroke="#06182a" stroke-width="1"/>
<line x1="360.90" y1="403.40" x2="380.10" y2="403.40" stroke="#000a18" stroke-width="1.4"/>
<circle cx="370.50" cy="351.70" r="1.95" fill="none" stroke="#2a64a0" stroke-width="1.05"/>
<circle cx="370.50" cy="447.10" r="1.95" fill="none" stroke="#2a64a0" stroke-width="1.05"/>
<line x1="401.00" y1="329.50" x2="401.00" y2="348.30" stroke="#1a1a1a" stroke-width="1.15"/>
<line x1="401.00" y1="370.80" x2="401.00" y2="377.60" stroke="#1a1a1a" stroke-width="1.15"/>
<line x1="395.40" y1="329.50" x2="406.60" y2="329.50" stroke="#222" stroke-width="1.2"/>
<line x1="395.40" y1="377.60" x2="406.60" y2="377.60" stroke="#222" stroke-width="1.2"/>
<rect x="391.40" y="348.30" width="19.20" height="22.50" fill="#c8112f" stroke="#1a0a0a" stroke-width="1"/>
<line x1="391.40" y1="358.30" x2="410.60" y2="358.30" stroke="#2a0008" stroke-width="1.4"/>
<circle cx="398.40" cy="300.40" r="1.95" fill="none" stroke="#cc1f40" stroke-width="1.05"/>
<circle cx="403.00" cy="299.50" r="1.95" fill="none" stroke="#cc1f40" stroke-width="1.05"/>
<circle cx="396.30" cy="309.10" r="1.95" fill="none" stroke="#cc1f40" stroke-width="1.05"/>
<circle cx="400.70" cy="313.40" r="1.95" fill="none" stroke="#cc1f40" stroke-width="1.05"/>
<circle cx="405.10" cy="311.20" r="1.95" fill="none" stroke="#cc1f40" stroke-width="1.05"/>
<circle cx="398.40" cy="317.90" r="1.95" fill="none" stroke="#cc1f40" stroke-width="1.05"/>
<circle cx="403.00" cy="319.40" r="1.95" fill="none" stroke="#cc1f40" stroke-width="1.05"/>
<circle cx="400.70" cy="325.10" r="1.95" fill="none" stroke="#cc1f40" stroke-width="1.05"/>
<circle cx="392.20" cy="327.80" r="1.95" fill="none" stroke="#cc1f40" stroke-width="1.05"/>
<circle cx="400.70" cy="329.50" r="1.95" fill="none" stroke="#cc1f40" stroke-width="1.05"/>
<circle cx="405.10" cy="327.80" r="1.95" fill="none" stroke="#cc1f40" stroke-width="1.05"/>
<circle cx="409.40" cy="327.80" r="1.95" fill="none" stroke="#cc1f40" stroke-width="1.05"/>
<circle cx="392.20" cy="380.70" r="1.95" fill="none" stroke="#cc1f40" stroke-width="1.05"/>
<circle cx="396.50" cy="379.30" r="1.95" fill="none" stroke="#cc1f40" stroke-width="1.05"/>
<circle cx="400.70" cy="382.20" r="1.95" fill="none" stroke="#cc1f40" stroke-width="1.05"/>
<circle cx="405.10" cy="378.70" r="1.95" fill="none" stroke="#cc1f40" stroke-width="1.05"/>
<circle cx="405.10" cy="382.60" r="1.95" fill="none" stroke="#cc1f40" stroke-width="1.05"/>
<circle cx="409.40" cy="380.70" r="1.95" fill="none" stroke="#cc1f40" stroke-width="1.05"/>
<circle cx="394.00" cy="387.50" r="1.95" fill="none" stroke="#cc1f40" stroke-width="1.05"/>
<circle cx="398.40" cy="387.50" r="1.95" fill="none" stroke="#cc1f40" stroke-width="1.05"/>
<circle cx="403.00" cy="387.50" r="1.95" fill="none" stroke="#cc1f40" stroke-width="1.05"/>
<circle cx="407.40" cy="388.30" r="1.95" fill="none" stroke="#cc1f40" stroke-width="1.05"/>
<circle cx="405.10" cy="394.50" r="1.95" fill="none" stroke="#cc1f40" stroke-width="1.05"/>
<circle cx="400.70" cy="397.40" r="1.95" fill="none" stroke="#cc1f40" stroke-width="1.05"/>
<circle cx="400.70" cy="407.50" r="1.95" fill="none" stroke="#cc1f40" stroke-width="1.05"/>
<line x1="431.60" y1="409.40" x2="431.60" y2="418.50" stroke="#1a1a1a" stroke-width="1.15"/>
<line x1="431.60" y1="438.50" x2="431.60" y2="443.00" stroke="#1a1a1a" stroke-width="1.15"/>
<line x1="426.00" y1="409.40" x2="437.20" y2="409.40" stroke="#222" stroke-width="1.2"/>
<line x1="426.00" y1="443.00" x2="437.20" y2="443.00" stroke="#222" stroke-width="1.2"/>
<rect x="422.00" y="418.50" width="19.20" height="20.00" fill="#11518a" stroke="#06182a" stroke-width="1"/>
<line x1="422.00" y1="431.50" x2="441.20" y2="431.50" stroke="#000a18" stroke-width="1.4"/>
<circle cx="428.70" cy="385.70" r="1.95" fill="none" stroke="#2a64a0" stroke-width="1.05"/>
<circle cx="432.20" cy="382.80" r="1.95" fill="none" stroke="#2a64a0" stroke-width="1.05"/>
<circle cx="434.80" cy="385.70" r="1.95" fill="none" stroke="#2a64a0" stroke-width="1.05"/>
<circle cx="428.70" cy="389.20" r="1.95" fill="none" stroke="#2a64a0" stroke-width="1.05"/>
<circle cx="432.20" cy="387.50" r="1.95" fill="none" stroke="#2a64a0" stroke-width="1.05"/>
<circle cx="434.50" cy="390.40" r="1.95" fill="none" stroke="#2a64a0" stroke-width="1.05"/>
<circle cx="430.20" cy="384.20" r="1.95" fill="none" stroke="#2a64a0" stroke-width="1.05"/>
<circle cx="433.40" cy="386.40" r="1.95" fill="none" stroke="#2a64a0" stroke-width="1.05"/>
<circle cx="430.60" cy="388.30" r="1.95" fill="none" stroke="#2a64a0" stroke-width="1.05"/>
<circle cx="432.80" cy="390.60" r="1.95" fill="none" stroke="#2a64a0" stroke-width="1.05"/>
<circle cx="427.40" cy="387.00" r="1.95" fill="none" stroke="#2a64a0" stroke-width="1.05"/>
<circle cx="431.30" cy="397.60" r="1.95" fill="none" stroke="#2a64a0" stroke-width="1.05"/>
<circle cx="431.30" cy="404.40" r="1.95" fill="none" stroke="#2a64a0" stroke-width="1.05"/>
<circle cx="431.30" cy="409.20" r="1.95" fill="none" stroke="#2a64a0" stroke-width="1.05"/>
<circle cx="422.80" cy="444.00" r="1.95" fill="none" stroke="#2a64a0" stroke-width="1.05"/>
<circle cx="425.50" cy="444.00" r="1.95" fill="none" stroke="#2a64a0" stroke-width="1.05"/>
<circle cx="428.50" cy="444.00" r="1.95" fill="none" stroke="#2a64a0" stroke-width="1.05"/>
<circle cx="431.50" cy="444.00" r="1.95" fill="none" stroke="#2a64a0" stroke-width="1.05"/>
<circle cx="434.50" cy="444.00" r="1.95" fill="none" stroke="#2a64a0" stroke-width="1.05"/>
<circle cx="437.50" cy="444.00" r="1.95" fill="none" stroke="#2a64a0" stroke-width="1.05"/>
<circle cx="440.10" cy="444.00" r="1.95" fill="none" stroke="#2a64a0" stroke-width="1.05"/>
<circle cx="430.40" cy="447.20" r="1.95" fill="none" stroke="#2a64a0" stroke-width="1.05"/>
<circle cx="438.00" cy="447.20" r="1.95" fill="none" stroke="#2a64a0" stroke-width="1.05"/>
<line x1="462.50" y1="330.40" x2="462.50" y2="337.00" stroke="#1a1a1a" stroke-width="1.15"/>
<line x1="462.50" y1="354.40" x2="462.50" y2="367.70" stroke="#1a1a1a" stroke-width="1.15"/>
<line x1="456.90" y1="330.40" x2="468.10" y2="330.40" stroke="#222" stroke-width="1.2"/>
<line x1="456.90" y1="367.70" x2="468.10" y2="367.70" stroke="#222" stroke-width="1.2"/>
<rect x="452.90" y="337.00" width="19.20" height="17.40" fill="#c8112f" stroke="#1a0a0a" stroke-width="1"/>
<line x1="452.90" y1="347.50" x2="472.10" y2="347.50" stroke="#2a0008" stroke-width="1.4"/>
<circle cx="462.50" cy="308.30" r="1.95" fill="none" stroke="#cc1f40" stroke-width="1.05"/>
<circle cx="462.50" cy="320.30" r="1.95" fill="none" stroke="#cc1f40" stroke-width="1.05"/>
<circle cx="462.50" cy="328.00" r="1.95" fill="none" stroke="#cc1f40" stroke-width="1.05"/>
<circle cx="462.50" cy="367.70" r="1.95" fill="none" stroke="#cc1f40" stroke-width="1.05"/>
<circle cx="462.50" cy="381.70" r="1.95" fill="none" stroke="#cc1f40" stroke-width="1.05"/>
<line x1="493.00" y1="427.20" x2="493.00" y2="438.00" stroke="#1a1a1a" stroke-width="1.15"/>
<line x1="493.00" y1="440.70" x2="493.00" y2="442.20" stroke="#1a1a1a" stroke-width="1.15"/>
<line x1="487.40" y1="427.20" x2="498.60" y2="427.20" stroke="#222" stroke-width="1.2"/>
<line x1="487.40" y1="442.20" x2="498.60" y2="442.20" stroke="#222" stroke-width="1.2"/>
<rect x="483.40" y="438.00" width="19.20" height="2.70" fill="#11518a" stroke="#06182a" stroke-width="1"/>
<line x1="483.40" y1="439.30" x2="502.60" y2="439.30" stroke="#000a18" stroke-width="1.4"/>
<circle cx="488.90" cy="420.20" r="1.95" fill="none" stroke="#2a64a0" stroke-width="1.05"/>
<circle cx="496.20" cy="420.20" r="1.95" fill="none" stroke="#2a64a0" stroke-width="1.05"/>
<circle cx="492.80" cy="426.00" r="1.95" fill="none" stroke="#2a64a0" stroke-width="1.05"/>
<line x1="61.90" y1="287.90" x2="61.90" y2="459.30" stroke="#2a2a2a" stroke-width="1.2"/>
<line x1="61.30" y1="458.80" x2="512.80" y2="458.80" stroke="#2a2a2a" stroke-width="1.2"/>
<line x1="59.40" y1="446.80" x2="61.90" y2="446.80" stroke="#2a2a2a" stroke-width="1"/>
<text transform="translate(56.20 449.80) scale(0.93 1)" x="0" y="0" font-size="8.3" text-anchor="end" font-weight="normal" fill="#111">0.0</text>
<line x1="59.40" y1="427.00" x2="61.90" y2="427.00" stroke="#2a2a2a" stroke-width="1"/>
<text transform="translate(56.20 430.00) scale(0.93 1)" x="0" y="0" font-size="8.3" text-anchor="end" font-weight="normal" fill="#111">0.2</text>
<line x1="59.40" y1="407.20" x2="61.90" y2="407.20" stroke="#2a2a2a" stroke-width="1"/>
<text transform="translate(56.20 410.20) scale(0.93 1)" x="0" y="0" font-size="8.3" text-anchor="end" font-weight="normal" fill="#111">0.4</text>
<line x1="59.40" y1="387.40" x2="61.90" y2="387.40" stroke="#2a2a2a" stroke-width="1"/>
<text transform="translate(56.20 390.40) scale(0.93 1)" x="0" y="0" font-size="8.3" text-anchor="end" font-weight="normal" fill="#111">0.6</text>
<line x1="59.40" y1="367.60" x2="61.90" y2="367.60" stroke="#2a2a2a" stroke-width="1"/>
<text transform="translate(56.20 370.60) scale(0.93 1)" x="0" y="0" font-size="8.3" text-anchor="end" font-weight="normal" fill="#111">0.8</text>
<line x1="59.40" y1="347.80" x2="61.90" y2="347.80" stroke="#2a2a2a" stroke-width="1"/>
<text transform="translate(56.20 350.80) scale(0.93 1)" x="0" y="0" font-size="8.3" text-anchor="end" font-weight="normal" fill="#111">1.0</text>
<line x1="59.40" y1="328.00" x2="61.90" y2="328.00" stroke="#2a2a2a" stroke-width="1"/>
<text transform="translate(56.20 331.00) scale(0.93 1)" x="0" y="0" font-size="8.3" text-anchor="end" font-weight="normal" fill="#111">1.2</text>
<line x1="59.40" y1="308.20" x2="61.90" y2="308.20" stroke="#2a2a2a" stroke-width="1"/>
<text transform="translate(56.20 311.20) scale(0.93 1)" x="0" y="0" font-size="8.3" text-anchor="end" font-weight="normal" fill="#111">1.4</text>
<line x1="59.40" y1="288.40" x2="61.90" y2="288.40" stroke="#2a2a2a" stroke-width="1"/>
<text transform="translate(56.20 291.40) scale(0.93 1)" x="0" y="0" font-size="8.3" text-anchor="end" font-weight="normal" fill="#111">1.6</text>
<line x1="94.50" y1="458.80" x2="94.50" y2="461.80" stroke="#2a2a2a" stroke-width="1"/>
<line x1="125.17" y1="458.80" x2="125.17" y2="461.80" stroke="#2a2a2a" stroke-width="1"/>
<line x1="155.84" y1="458.80" x2="155.84" y2="461.80" stroke="#2a2a2a" stroke-width="1"/>
<line x1="186.51" y1="458.80" x2="186.51" y2="461.80" stroke="#2a2a2a" stroke-width="1"/>
<line x1="217.18" y1="458.80" x2="217.18" y2="461.80" stroke="#2a2a2a" stroke-width="1"/>
<line x1="247.85" y1="458.80" x2="247.85" y2="461.80" stroke="#2a2a2a" stroke-width="1"/>
<line x1="278.52" y1="458.80" x2="278.52" y2="461.80" stroke="#2a2a2a" stroke-width="1"/>
<line x1="309.19" y1="458.80" x2="309.19" y2="461.80" stroke="#2a2a2a" stroke-width="1"/>
<line x1="339.86" y1="458.80" x2="339.86" y2="461.80" stroke="#2a2a2a" stroke-width="1"/>
<line x1="370.53" y1="458.80" x2="370.53" y2="461.80" stroke="#2a2a2a" stroke-width="1"/>
<line x1="401.20" y1="458.80" x2="401.20" y2="461.80" stroke="#2a2a2a" stroke-width="1"/>
<line x1="431.87" y1="458.80" x2="431.87" y2="461.80" stroke="#2a2a2a" stroke-width="1"/>
<line x1="462.54" y1="458.80" x2="462.54" y2="461.80" stroke="#2a2a2a" stroke-width="1"/>
<line x1="493.21" y1="458.80" x2="493.21" y2="461.80" stroke="#2a2a2a" stroke-width="1"/>
<text x="109.80" y="471.80" font-size="8.9" text-anchor="middle" font-weight="normal" fill="#111" textLength="28.099999999999998" lengthAdjust="spacingAndGlyphs">RCo/Ag</text>
<text x="171.30" y="471.80" font-size="8.9" text-anchor="middle" font-weight="normal" fill="#111" textLength="23.599999999999998" lengthAdjust="spacingAndGlyphs">GPIbR</text>
<text x="171.30" y="480.50" font-size="8.9" text-anchor="middle" font-weight="normal" fill="#111" textLength="22.599999999999998" lengthAdjust="spacingAndGlyphs">LIA/Ag</text>
<text x="232.40" y="471.80" font-size="8.9" text-anchor="middle" font-weight="normal" fill="#111" textLength="23.9" lengthAdjust="spacingAndGlyphs">GPIbR</text>
<text x="232.40" y="480.50" font-size="8.9" text-anchor="middle" font-weight="normal" fill="#111" textLength="28.799999999999997" lengthAdjust="spacingAndGlyphs">CLIA/Ag</text>
<text x="293.85" y="471.80" font-size="8.9" text-anchor="middle" font-weight="normal" fill="#111" textLength="36.6" lengthAdjust="spacingAndGlyphs">GPIbM/Ag</text>
<text x="355.15" y="471.80" font-size="8.9" text-anchor="middle" font-weight="normal" fill="#111" textLength="21.2" lengthAdjust="spacingAndGlyphs">Ab/Ag</text>
<text x="416.50" y="471.80" font-size="8.9" text-anchor="middle" font-weight="normal" fill="#111" textLength="30.5" lengthAdjust="spacingAndGlyphs">CB E/Ag</text>
<text x="477.80" y="471.80" font-size="8.9" text-anchor="middle" font-weight="normal" fill="#111" textLength="12.3" lengthAdjust="spacingAndGlyphs">CB</text>
<text x="477.80" y="480.50" font-size="8.9" text-anchor="middle" font-weight="normal" fill="#111" textLength="29.299999999999997" lengthAdjust="spacingAndGlyphs">CLIA/Ag</text>
<text x="287.50" y="495.70" font-size="9.2" text-anchor="middle" font-weight="normal" fill="#111" textLength="59.5" lengthAdjust="spacingAndGlyphs" style="stroke:#111;stroke-width:0.45px">VWF activity/Ag ratio</text>
<text x="0.00" y="0.00" font-size="9.2" text-anchor="middle" font-weight="normal" fill="#111" transform="translate(39.9 364.8) rotate(-90)" textLength="14.5" lengthAdjust="spacingAndGlyphs">Ratio</text>
<circle cx="71.20" cy="491.50" r="2.0" fill="none" stroke="#cc1f40" stroke-width="1.2"/>
<text x="76.90" y="494.50" font-size="8.4" text-anchor="start" font-weight="normal" fill="#111" textLength="46.9" lengthAdjust="spacingAndGlyphs">Type 1 samples</text>
<circle cx="71.20" cy="504.00" r="2.0" fill="none" stroke="#2a64a0" stroke-width="1.2"/>
<text x="76.90" y="507.10" font-size="8.4" text-anchor="start" font-weight="normal" fill="#111" textLength="63.1" lengthAdjust="spacingAndGlyphs">Type 2A/2B samples</text>
</svg></div></body></html>
